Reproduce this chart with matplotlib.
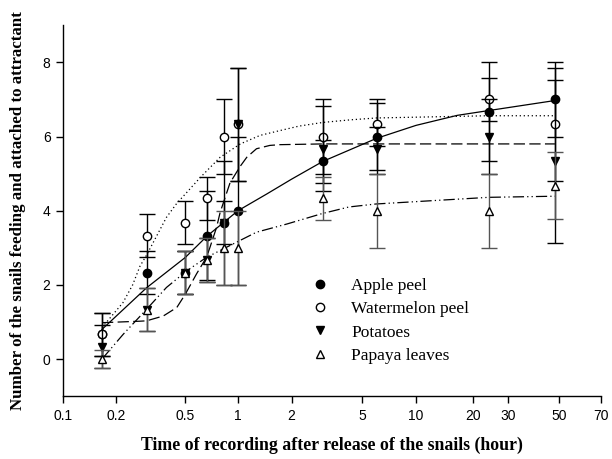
import numpy as np
import matplotlib
matplotlib.use("Agg")
import matplotlib.pyplot as plt
from matplotlib.lines import Line2D

# =========================================================
# Data (hours, mean number of snails, error)
# =========================================================

times = [0.167, 0.3, 0.5, 0.667, 0.833, 1, 3, 6, 24, 48]

apple = [0.67, 2.33, 2.33, 3.33, 3.67, 4.0, 5.33, 6.0, 6.67, 7.0]
apple_err = [0.58, 0.58, 0.58, 1.2, 1.67, 2.0, 0.58, 1.0, 1.33, 1.0]

melon = [0.67, 3.33, 3.67, 4.33, 6.0, 6.33, 6.0, 6.33, 7.0, 6.33]
melon_err = [0.58, 0.58, 0.58, 0.58, 1.0, 1.53, 1.0, 0.58, 0.58, 1.53]

potato = [0.33, 1.33, 2.33, 2.67, 3.67, 6.33, 5.67, 5.67, 6.0, 5.33]
potato_err = [0.58, 0.58, 0.58, 0.58, 0.58, 1.53, 1.15, 0.58, 1.0, 2.2]

papaya = [0.0, 1.33, 2.33, 2.67, 3.0, 3.0, 4.33, 4.0, 4.0, 4.67]
papaya_err = [0.25, 0.58, 0.58, 0.58, 1.0, 1.0, 0.58, 1.0, 1.0, 0.9]

# fitted curves
apple_fit_t = [0.167, 0.3, 0.5, 0.667, 1.0, 1.45, 2.0, 3.0, 6.0, 10, 16.5, 24, 48]
apple_fit_y = [0.8, 1.92, 2.74, 3.32, 4.0, 4.45, 4.85, 5.33, 5.95, 6.3, 6.57, 6.7, 6.97]

melon_fit_t = [0.167, 0.22, 0.25, 0.275, 0.3, 0.39, 0.447, 0.5, 0.61, 0.79, 1.03,
               1.33, 1.72, 2.2, 3.0, 4.3, 6.0, 24, 48]
melon_fit_y = [0.85, 1.52, 2.0, 2.5, 2.8, 3.82, 4.2, 4.45, 4.9, 5.44, 5.8,
               6.03, 6.16, 6.28, 6.38, 6.45, 6.5, 6.56, 6.56]

potato_fit_t = [0.167, 0.275, 0.3, 0.374, 0.447, 0.5, 0.58, 0.66, 0.69, 0.754, 0.79,
                0.9, 1.03, 1.12, 1.27, 1.51, 1.72, 3.0, 48]
potato_fit_y = [0.98, 1.02, 1.03, 1.16, 1.39, 1.75, 2.3, 2.74, 3.0, 3.55, 3.95,
                4.75, 5.2, 5.44, 5.67, 5.76, 5.78, 5.8, 5.8]

papaya_fit_t = [0.167, 0.221, 0.3, 0.39, 0.51, 0.66, 1.0, 1.27, 1.88, 2.96, 4.2, 5.94, 24, 48]
papaya_fit_y = [0.0, 0.67, 1.34, 1.93, 2.38, 2.74, 3.17, 3.42, 3.64, 3.92, 4.1, 4.18, 4.36, 4.39]

labels = ["Apple peel", "Watermelon peel", "Potatoes", "Papaya leaves"]
xtick_vals = [0.1, 0.2, 0.5, 1, 2, 5, 10, 20, 30, 50, 70]
xtick_text = ["0.1", "0.2", "0.5", "1", "2", "5", "10", "20", "30", "50", "70"]

# =========================================================
# Stretched log axis (the original widens the top end)
# =========================================================

KNOT_LOG = np.log10([0.1, 1, 10, 20, 30, 50, 70])
KNOT_POS = np.array([0.0, 175.0, 353.0, 410.0, 445.0, 496.0, 538.0])


def _interp_ext(x, xp, fp):
    x = np.asarray(x, dtype=float)
    y = np.interp(x, xp, fp)
    s0 = (fp[1] - fp[0]) / (xp[1] - xp[0])
    s1 = (fp[-1] - fp[-2]) / (xp[-1] - xp[-2])
    y = np.where(x < xp[0], fp[0] + (x - xp[0]) * s0, y)
    y = np.where(x > xp[-1], fp[-1] + (x - xp[-1]) * s1, y)
    return y


def forward(x):
    x = np.asarray(x, dtype=float)
    return _interp_ext(np.log10(np.maximum(x, 1e-6)), KNOT_LOG, KNOT_POS)


def inverse(p):
    return 10 ** _interp_ext(p, KNOT_POS, KNOT_LOG)


# =========================================================
# Plot
# =========================================================

fig = plt.figure(figsize=(6.12, 4.59), dpi=100)
ax = fig.add_axes([0.103, 0.137, 0.879, 0.808])
ax.set_xscale("function", functions=(forward, inverse))

lw = 0.9
ax.plot(apple_fit_t, apple_fit_y, color="black", lw=lw, ls="-", zorder=2)
ax.plot(melon_fit_t, melon_fit_y, color="black", lw=lw, ls=(0, (1, 2.2)), zorder=2)
ax.plot(potato_fit_t, potato_fit_y, color="black", lw=lw, ls=(0, (9, 3.5)), zorder=2)
ax.plot(papaya_fit_t, papaya_fit_y, color="black", lw=lw,
        ls=(0, (9, 2.5, 1, 2.5, 1, 2.5)), zorder=2)

eb = dict(capsize=6, elinewidth=1.0, capthick=1.0, ms=6, ls="none")
ax.errorbar(times, apple, yerr=apple_err, fmt="o", color="black", mfc="black",
            mec="black", zorder=3, **eb)
ax.errorbar(times, melon, yerr=melon_err, fmt="o", color="black", mfc="white",
            mec="black", zorder=4, **eb)
ax.errorbar(times, potato, yerr=potato_err, fmt="v", color="black", mfc="black",
            mec="black", zorder=5, **eb)
ax.errorbar(times, papaya, yerr=papaya_err, fmt="^", color="#555555", mfc="white",
            mec="black", zorder=6, **eb)

ax.set_xlim(0.1, 70)
ax.set_ylim(-1, 9)
ax.set_xticks(xtick_vals)
ax.set_xticklabels(xtick_text)
ax.xaxis.set_minor_locator(plt.NullLocator())
ax.set_yticks([0, 2, 4, 6, 8])

for s in ["top", "right"]:
    ax.spines[s].set_visible(False)
for s in ["left", "bottom"]:
    ax.spines[s].set_linewidth(1.0)

ax.tick_params(direction="out", length=5, width=1.0, labelsize=10, pad=4)
for t in ax.get_xticklabels() + ax.get_yticklabels():
    t.set_fontfamily("Liberation Sans")

ax.set_xlabel("Time of recording after release of the snails (hour)",
              fontfamily="Liberation Serif", fontweight="bold", fontsize=12.8, labelpad=10)
ax.set_ylabel("Number of the snails feeding and attached to attractant",
              fontfamily="Liberation Serif", fontweight="bold", fontsize=12.2, labelpad=12)

handles = [
    Line2D([], [], ls="none", marker="o", ms=6, mfc="black", mec="black"),
    Line2D([], [], ls="none", marker="o", ms=6, mfc="white", mec="black"),
    Line2D([], [], ls="none", marker="v", ms=6, mfc="black", mec="black"),
    Line2D([], [], ls="none", marker="^", ms=6, mfc="white", mec="black"),
]
ax.legend(handles, labels, loc="upper left", bbox_to_anchor=(0.432, 0.36),
          frameon=False, handlelength=1.0, handletextpad=1.3, labelspacing=0.4,
          prop={"family": "Liberation Serif", "size": 12.5})

fig.savefig("out.png", dpi=100)
